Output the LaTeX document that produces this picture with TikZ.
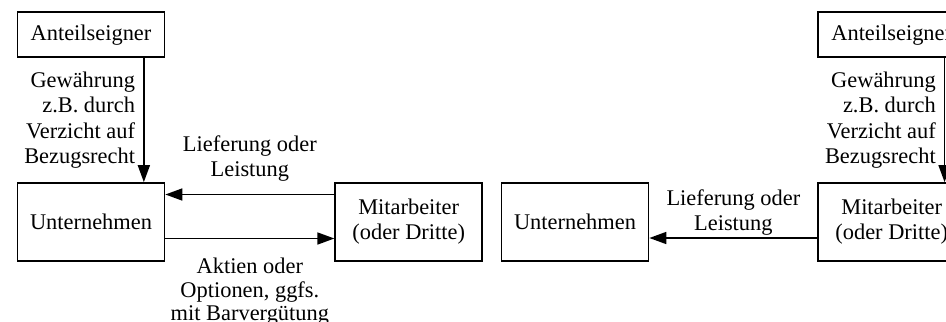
\documentclass[tikz,border=0pt]{standalone}
\usepackage{fontspec}
\setmainfont{Liberation Serif}
\usetikzlibrary{arrows.meta, positioning}

\begin{document}
\begin{tikzpicture}[
        x=0.5pt, y=-0.5pt,
        font=\fontsize{11.2}{12.6}\selectfont,
        box/.style={rectangle, draw, line width=0.85pt, minimum width=73.5pt, minimum height=39pt, align=center, inner sep=2pt},
        flow/.style={draw, line width=0.85pt, -{Triangle[length=8.5pt, width=6pt]}},
        lbl/.style={align=center, inner sep=3pt}
    ]
        \useasboundingbox (0,0) rectangle (946,321);
        \clip (0,0) rectangle (946,321);

        % ohne Barausgleich
        \node[box] (unter) at (91,222) {Unternehmen};
        \node[box, minimum height=22.5pt, above=62pt of unter] (anteil) {Anteilseigner};
        \node[box, right=84.5pt of unter] (mitarb) {Mitarbeiter\\(oder Dritte)};

        \draw[flow] ([xshift=-10.75pt]anteil.south east) -- node[midway, left, align=right, inner sep=4pt] {Gewährung\\z.B. durch\\Verzicht auf\\Bezugsrecht} ([xshift=-10.75pt]unter.north east);
        \draw[flow] ([yshift=13.75pt]mitarb.west) -- node[lbl, above=3pt] {Lieferung oder\\Leistung} ([yshift=13.75pt]unter.east);
        \draw[flow] ([yshift=-8.25pt]unter.east) -- node[lbl, below=6.5pt, font=\fontsize{11.2}{11.6}\selectfont] {Aktien oder\\Optionen, ggfs.\\mit Barvergütung} ([yshift=-8.25pt]mitarb.west);

        % mit Barausgleich
        \node[box] (unter2) at (575,222) {Unternehmen};
        \node[box, right=84pt of unter2] (mitarb2) {Mitarbeiter\\(oder Dritte)};
        \node[box, minimum height=22.5pt, above=62pt of mitarb2] (anteil2) {Anteilseigner};

        \draw[flow] ([xshift=-10.75pt]anteil2.south east) -- node[midway, left, align=right, inner sep=4pt] {Gewährung\\z.B. durch\\Verzicht auf\\Bezugsrecht} ([xshift=-10.75pt]mitarb2.north east);
        \draw[flow] ([yshift=-8pt]mitarb2.west) -- node[lbl, above, inner sep=1pt] {Lieferung oder\\Leistung} ([yshift=-8pt]unter2.east);
    \end{tikzpicture}
\end{document}
